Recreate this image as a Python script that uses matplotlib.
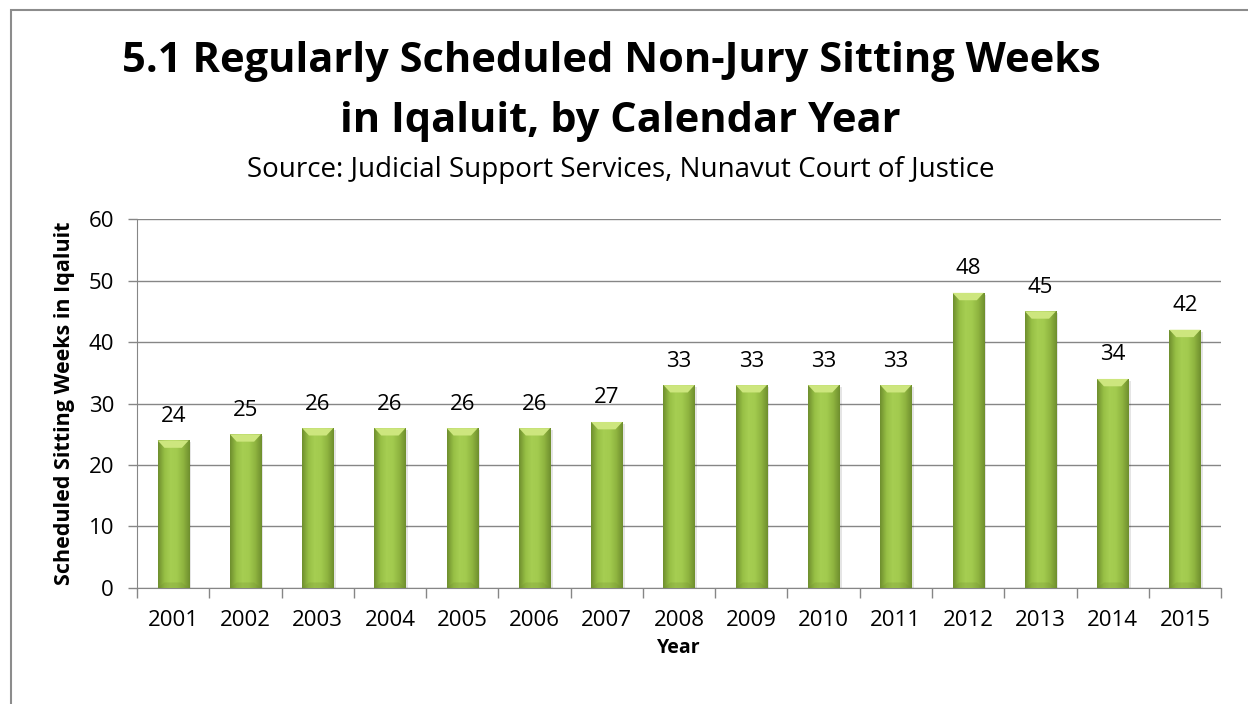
import numpy as np
import matplotlib
matplotlib.use("Agg")
import matplotlib.pyplot as plt
from matplotlib.patches import Rectangle, Polygon
from matplotlib.colors import LinearSegmentedColormap

# --- Data ---
years = ["2001", "2002", "2003", "2004", "2005", "2006", "2007", "2008",
         "2009", "2010", "2011", "2012", "2013", "2014", "2015"]
weeks = [24, 25, 26, 26, 26, 26, 27, 33, 33, 33, 33, 48, 45, 34, 42]

title_lines = ["5.1 Regularly Scheduled Non-Jury Sitting Weeks",
               "in Iqaluit, by Calendar Year"]
subtitle = "Source: Judicial Support Services, Nunavut Court of Justice"

plt.rcParams['font.family'] = ['Open Sans', 'DejaVu Sans']

fig = plt.figure(figsize=(12.48, 7.04), dpi=100)
ax = fig.add_axes([0.1098, 0.1648, 0.8686, 0.524])

# outer chart frame (runs off the right/bottom edge)
fig.patches.append(Rectangle((11 / 1248, -0.05), 1.2, 1 - 10 / 704 + 0.05,
                             transform=fig.transFigure, fill=False,
                             edgecolor="#8c8c8c", linewidth=1.5))

x = np.arange(len(years))
bar_w = 0.43
bars = ax.bar(x, weeks, width=bar_w, color="#9bbb59", zorder=3)

# horizontal shading across each bar
cmap = LinearSegmentedColormap.from_list(
    "bar", ["#6f8f2e", "#97bf45", "#a6ce52", "#a2ca4e", "#8fb440", "#6f8f2e"])
grad = np.linspace(0, 1, 64).reshape(1, -1)
for b, v in zip(bars, weeks):
    x0 = b.get_x()
    w = b.get_width()
    # soft shadow on the right
    ax.add_patch(Rectangle((x0 + 0.035, -0.3), w, v, facecolor="#000000",
                           alpha=0.10, zorder=2, linewidth=0))
    im = ax.imshow(grad, cmap=cmap, aspect="auto",
                   extent=(x0, x0 + w, 0, v), zorder=3.5)
    im.set_clip_path(b)
    # light bevel at the top
    bev = 1.2
    ax.add_patch(Polygon([(x0, v), (x0 + w, v), (x0 + w * 0.78, v - bev),
                          (x0 + w * 0.22, v - bev)],
                         closed=True, facecolor="#cde67e", edgecolor="none",
                         zorder=4))
    # slightly darker base
    ax.add_patch(Polygon([(x0, 0), (x0 + w, 0), (x0 + w * 0.78, 0.9),
                          (x0 + w * 0.22, 0.9)],
                         closed=True, facecolor="#6f8c30", edgecolor="none",
                         alpha=0.25, zorder=4))
    ax.text(x0 + w / 2, v + 2.2, str(v), ha="center", va="bottom",
            fontsize=16, color="#000000", zorder=5)

ax.set_xlim(-0.5, len(years) - 0.5)
ax.set_ylim(0, 60)
ax.set_yticks(range(0, 61, 10))
ax.set_xticks(x)
ax.set_xticklabels(years, fontsize=16)
ax.tick_params(axis="y", labelsize=16, length=6.5, color="#868686", width=1,
               pad=10)
ax.tick_params(axis="x", length=0, pad=16)
# category boundary ticks
ax.set_xticks(np.arange(-0.5, len(years)), minor=True)
ax.tick_params(axis="x", which="minor", length=7, color="#868686", width=1)

ax.grid(axis="y", color="#868686", linewidth=1, zorder=0)
ax.set_axisbelow(True)
for s in ["top", "right"]:
    ax.spines[s].set_visible(False)
for s in ["left", "bottom"]:
    ax.spines[s].set_color("#868686")

ax.set_xlabel("Year", fontsize=14, fontweight="bold", labelpad=5)
ax.set_ylabel("Scheduled Sitting Weeks in Iqaluit", fontsize=15.5,
              fontweight="bold", labelpad=10)

fig.text(0.490, 0.912, title_lines[0], ha="center", va="center",
         fontsize=30, fontweight="bold")
fig.text(0.497, 0.827, title_lines[1], ha="center", va="center",
         fontsize=30, fontweight="bold")
fig.text(0.497, 0.759, subtitle, ha="center", va="center", fontsize=20)

fig.savefig("out.png", dpi=100)
